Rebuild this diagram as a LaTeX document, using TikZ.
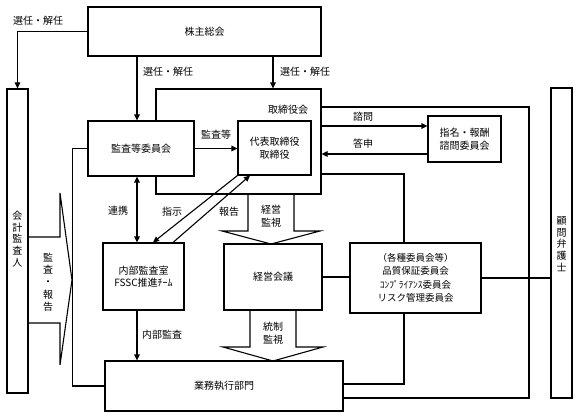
\documentclass[tikz,border=0pt]{standalone}
\usepackage{fontspec}
\setmainfont{Noto Sans CJK JP}
\usetikzlibrary{arrows.meta}
\begin{document}
\begin{tikzpicture}[x=1pt,y=-1pt,line width=1.1pt,
  box/.style={draw,fill=white,line width=1.1pt,inner sep=0pt,align=center,font=\fontsize{10}{13}\selectfont},
  lbl/.style={inner sep=0pt,align=center,font=\fontsize{10}{13}\selectfont},
  vtext/.style={inner sep=0pt,align=center,font=\fontsize{10}{11.8}\selectfont},
  arr/.style={-{Triangle[length=6pt,width=5.5pt]}},
  darr/.style={{Triangle[length=6pt,width=5.5pt]}-{Triangle[length=6pt,width=5.5pt]}}]
\useasboundingbox (0,0) rectangle (578,417);
% boxes
\node[box,minimum width=233pt,minimum height=49pt] (soukai) at (204.5,31.5) {株主総会};
\node[box,minimum width=21pt,minimum height=304pt] (kaikei) at (17.5,241) {};
\node[vtext] (kaikeit) at (17.5,239) {会\\計\\監\\査\\人};
\node[box,minimum width=165pt,minimum height=105pt] (torikai) at (238.5,141.5) {};
\node[lbl] (torikait) at (288,110) {取締役会};
\node[box,minimum width=106pt,minimum height=55pt] (kansa) at (141,148.5) {監査等委員会};
\node[box,minimum width=73pt,minimum height=54pt] (daihyo) at (274.5,148) {代表取締役\\取締役};
\node[box,minimum width=73pt,minimum height=46pt] (shimei) at (464.5,139) {指名・報酬\\諮問委員会};
\node[box,minimum width=21pt,minimum height=310pt] (komon) at (561.5,243) {};
\node[vtext] (komont) at (561.5,244) {顧\\問\\弁\\護\\士};
\node[box,minimum width=81pt,minimum height=67pt,font=\fontsize{10}{11.5}\selectfont] (naibu) at (143.5,276.5) {内部監査室\\FSSC推進ﾁｰﾑ};
\node[box,minimum width=98pt,minimum height=66pt] (keiei) at (273,277) {経営会議};
\node[box,minimum width=131pt,minimum height=70pt,font=\fontsize{9.5}{13.4}\selectfont] (kakushu) at (415.5,278) {（各種委員会等）\\品質保証委員会\\ｺﾝﾌﾟﾗｲｱﾝｽ委員会\\リスク管理委員会};
\node[box,minimum width=238pt,minimum height=50pt] (gyomu) at (224,386) {業務執行部門};
% helper coordinates
\coordinate (cx) at (137,0);
\coordinate (kx) at (404,0);
\coordinate (rx) at (529,0);
% connectors
\draw[arr] (soukai.west) -| (kaikei.north);
\node[lbl] (l1) at (38,21) {選任・解任};
\draw[arr] (soukai.south -| cx) -- (kansa.north -| cx);
\node[lbl] (l2) at (168,72) {選任・解任};
\draw[arr] (soukai.south -| 273,0) -- (torikai.north -| 273,0);
\node[lbl] (l3) at (305,72) {選任・解任};
\draw[arr] (kansa.east) -- (daihyo.west |- kansa.east);
\node[lbl] (l4) at (216,135) {監査等};
\draw (kansa.west) -- ++(-15,0) |- (gyomu.west);
\draw (torikai.east |- 0,107) -- (rx |- 0,107) |- (gyomu.east |- 0,398);
\draw[arr] (torikai.east |- 0,126) -- (shimei.west |- 0,126);
\node[lbl] (l5) at (363,117) {諮問};
\draw[arr] (shimei.west |- 0,154) -- (torikai.east |- 0,154);
\node[lbl] (l6) at (363,144) {答申};
\draw (torikai.east |- 0,174) -| (kakushu.north -| kx);
\draw (kakushu.south -| kx) |- (gyomu.east |- 0,384);
\draw (keiei.east) -- (kakushu.west |- keiei.east);
\draw (kakushu.east) -- (komon.west |- kakushu.east);
\draw[darr] (kansa.south -| cx) -- (naibu.north -| cx);
\node[lbl] (l7) at (118,211) {連携};
\draw[arr] (naibu.south -| cx) -- (gyomu.north -| cx);
\node[lbl] (l8) at (162,335) {内部監査};
\draw[arr] (daihyo.south west) -- (naibu.north -| 153,0);
\node[lbl] (l9) at (172,212) {指示};
\draw[arr] (naibu.north -| 173,0) -- (daihyo.south -| 250,0);
\node[lbl] (l10) at (229,212) {報告};
% block arrows
\draw (248,194) -- (248,231) -- (222,231) -- (271,244) -- (320,231) -- (294,231) -- (294,194);
\node[lbl] (l11) at (271,216) {経営\\監視};
\draw (250,310) -- (250,347) -- (223,347) -- (273,361) -- (323,347) -- (296,347) -- (296,310);
\node[lbl] (l12) at (273,333) {統制\\監視};
\draw (28,237) -- (60,237) -- (60,193) -- (72,280) -- (60,365) -- (60,323) -- (28,323);
\node[vtext,font=\fontsize{10}{12.3}\selectfont] (l13) at (48,282) {監\\査\\・\\報\\告};
\end{tikzpicture}
\end{document}
